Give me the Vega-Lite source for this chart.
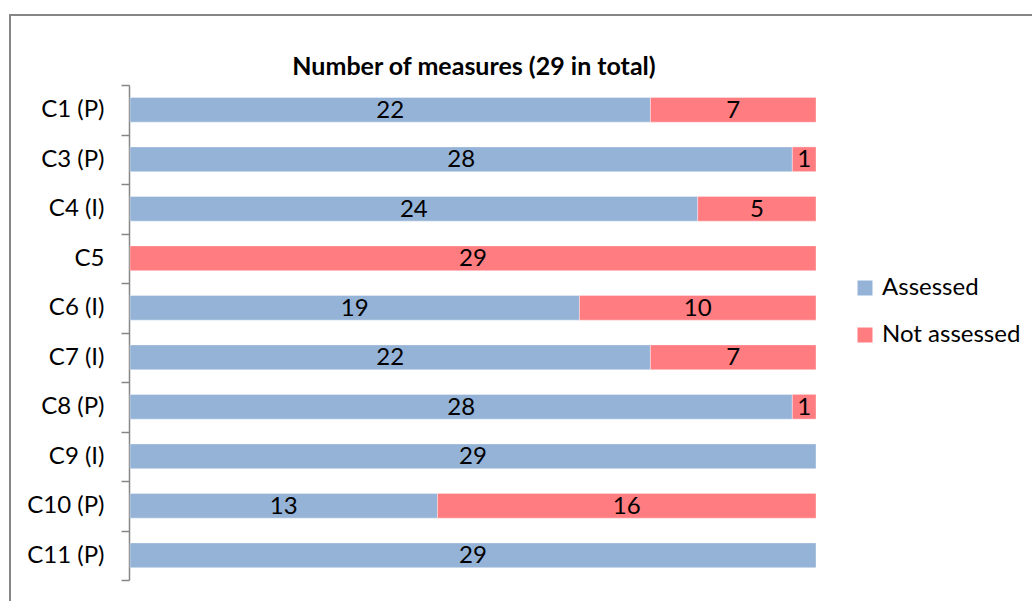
{
  "$schema": "https://vega.github.io/schema/vega-lite/v6.json",
  "width": 1040,
  "height": 600,
  "autosize": {"type": "none"},
  "padding": {"left": 10, "top": 15, "right": 0, "bottom": 0},
  "background": "white",
  "config": {
    "view": {"stroke": "#868686", "strokeWidth": 2},
    "font": "Lato"
  },
  "title": {
    "text": "Number of measures (29 in total)",
    "font": "Lato",
    "fontSize": 25,
    "fontWeight": "bold",
    "color": "black",
    "anchor": "middle",
    "frame": "group",
    "dx": -56,
    "offset": -77
  },
  "data": {
    "values": [
      {"measure": "C1 (P)", "status": "Assessed", "count": 22},
      {"measure": "C1 (P)", "status": "Not assessed", "count": 7},
      {"measure": "C3 (P)", "status": "Assessed", "count": 28},
      {"measure": "C3 (P)", "status": "Not assessed", "count": 1},
      {"measure": "C4 (I)", "status": "Assessed", "count": 24},
      {"measure": "C4 (I)", "status": "Not assessed", "count": 5},
      {"measure": "C5", "status": "Not assessed", "count": 29},
      {"measure": "C6 (I)", "status": "Assessed", "count": 19},
      {"measure": "C6 (I)", "status": "Not assessed", "count": 10},
      {"measure": "C7 (I)", "status": "Assessed", "count": 22},
      {"measure": "C7 (I)", "status": "Not assessed", "count": 7},
      {"measure": "C8 (P)", "status": "Assessed", "count": 28},
      {"measure": "C8 (P)", "status": "Not assessed", "count": 1},
      {"measure": "C9 (I)", "status": "Assessed", "count": 29},
      {"measure": "C10 (P)", "status": "Assessed", "count": 13},
      {"measure": "C10 (P)", "status": "Not assessed", "count": 16},
      {"measure": "C11 (P)", "status": "Assessed", "count": 29}
    ]
  },
  "encoding": {
    "y": {
      "field": "measure",
      "type": "nominal",
      "sort": ["C1 (P)", "C3 (P)", "C4 (I)", "C5", "C6 (I)", "C7 (I)", "C8 (P)", "C9 (I)", "C10 (P)", "C11 (P)"],
      "scale": {"range": [70, 565], "paddingInner": 0, "paddingOuter": 0},
      "axis": {
        "title": null,
        "offset": -119,
        "tickBand": "extent",
        "domainColor": "#868686",
        "domainWidth": 1.5,
        "tickColor": "#868686",
        "tickWidth": 1.5,
        "tickSize": 8,
        "labelPadding": 17,
        "labelFont": "Lato",
        "labelFontSize": 24,
        "labelColor": "black"
      }
    },
    "order": {"field": "status", "type": "nominal", "sort": "ascending"}
  },
  "layer": [
    {
      "mark": {"type": "bar", "height": {"band": 0.5}, "stroke": "white", "strokeWidth": 0.6, "strokeOpacity": 0.6},
      "encoding": {
        "x": {
          "field": "count",
          "type": "quantitative",
          "stack": "zero",
          "scale": {"domain": [0, 29], "range": [120, 806], "nice": false, "zero": false},
          "axis": null
        },
        "color": {
          "field": "status",
          "type": "nominal",
          "scale": {"domain": ["Assessed", "Not assessed"], "range": ["#95B3D7", "#FF7C80"]},
          "legend": {
            "title": null,
            "orient": "none",
            "legendX": 843,
            "legendY": 261,
            "symbolType": "square",
            "symbolSize": 225,
            "symbolStrokeWidth": 0,
            "labelFont": "Lato",
            "labelFontSize": 24,
            "labelColor": "black",
            "labelOffset": 5,
            "rowPadding": 23
          }
        }
      }
    },
    {
      "mark": {"type": "text", "font": "Lato", "fontSize": 24, "color": "black", "baseline": "middle", "align": "center", "dy": 1},
      "encoding": {
        "x": {"field": "count", "type": "quantitative", "stack": "zero", "bandPosition": 0.5},
        "text": {"field": "count", "type": "quantitative"}
      }
    }
  ]
}
